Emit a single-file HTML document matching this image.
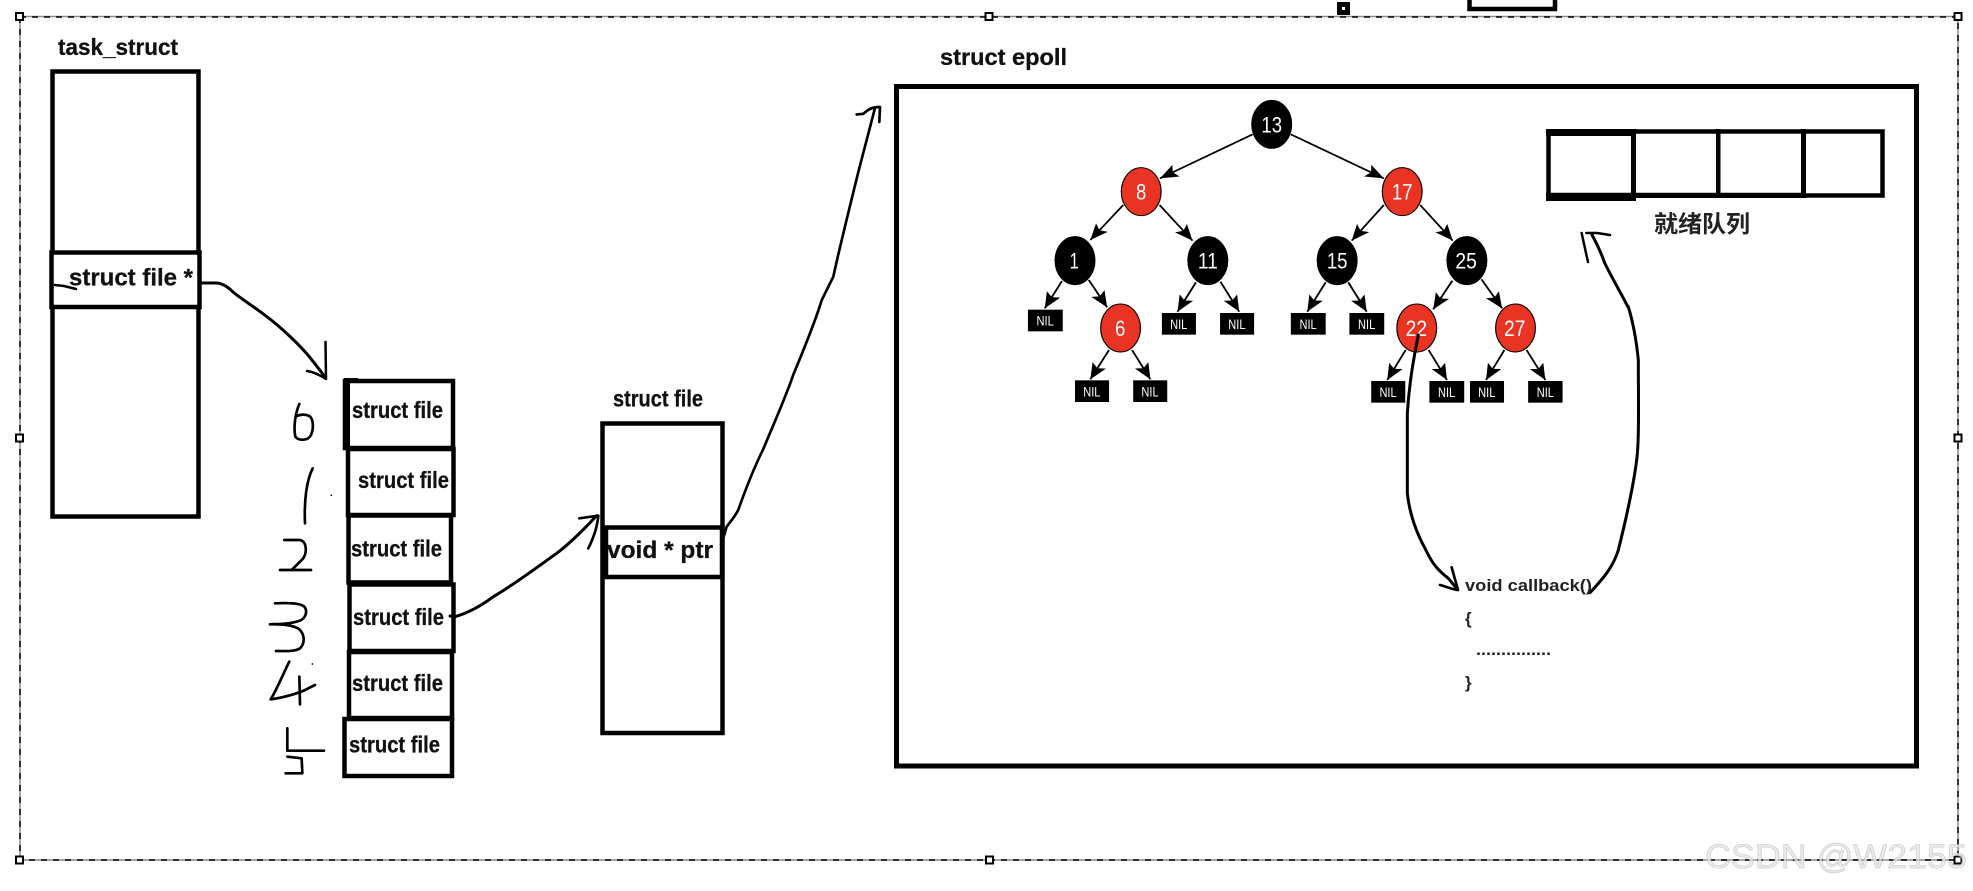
<!DOCTYPE html>
<html>
<head>
<meta charset="utf-8">
<style>
html,body{margin:0;padding:0;background:#fff;width:1973px;height:891px;overflow:hidden}
svg{display:block}
text{font-family:"Liberation Sans","Noto Sans CJK SC",sans-serif}
.b{font-weight:700;fill:#111;stroke:#111;stroke-width:.3}
.h{fill:none;stroke:#000;stroke-linejoin:round;stroke-linecap:round}
.n{fill:#fff;font-size:66px;text-anchor:middle}
.nil{fill:#fff;font-size:42px;text-anchor:middle}
.e{stroke:#000;stroke-width:5;marker-end:url(#ah)}
</style>
</head>
<body>
<svg width="1973" height="891" viewBox="0 0 1973 891" xmlns="http://www.w3.org/2000/svg">
<defs>
<marker id="ah" markerUnits="userSpaceOnUse" markerWidth="52" markerHeight="42" refX="48" refY="20" orient="auto">
<polygon points="0,0 48,20 0,40 10,20" fill="#000"/>
</marker>
</defs>

<!-- selection frame -->
<g fill="none">
<rect x="20" y="16.5" width="1938" height="843.5" stroke="#8a8a8a" stroke-width="1.5"/>
<rect x="20" y="17" width="1938" height="843" stroke="#000" stroke-width="1.5" stroke-dasharray="6 6"/>
</g>
<g fill="#fff" stroke="#000" stroke-width="2">
<rect x="16" y="13" width="7" height="7"/>
<rect x="985.5" y="13" width="7" height="7"/>
<rect x="1954.5" y="13" width="7" height="7"/>
<rect x="16" y="434.5" width="7" height="7"/>
<rect x="1954.5" y="434.5" width="7" height="7"/>
<rect x="16" y="856.5" width="7" height="7"/>
<rect x="986" y="856.5" width="7" height="7"/>
<rect x="1954.5" y="856.5" width="7" height="7"/>
</g>
<rect x="1337" y="2" width="13" height="13" fill="#000"/>
<rect x="1342" y="7" width="3" height="3" fill="#fff"/>
<path d="M1469.5 0V9H1555V0" fill="none" stroke="#000" stroke-width="4.5"/>

<!-- task_struct -->
<text class="b" x="58" y="55" font-size="23" textLength="120" lengthAdjust="spacingAndGlyphs">task_struct</text>
<g fill="#fff" stroke="#000" stroke-width="4.5">
<rect x="52.5" y="71.5" width="146" height="445"/>
<rect x="51.5" y="252.5" width="148" height="54.5"/>
</g>
<text class="b" x="69" y="285.5" font-size="24" textLength="124" lengthAdjust="spacingAndGlyphs">struct file *</text>
<path class="h" stroke-width="2.5" d="M55 285L64 286L76 289"/>
<path class="h" stroke-width="3" d="M202 283L216 283Q224 283 233 292C245 302 262 311 283 330S310 357 325 377"/>
<path class="h" stroke-width="2.5" d="M325.5 342L326 379Q315 372 307 371"/>

<!-- file table -->
<g fill="#fff" stroke="#000" stroke-width="4.5">
<rect x="345" y="381" width="108" height="67"/>
<rect x="348" y="449" width="105.5" height="66"/>
<rect x="348.5" y="515.5" width="102.5" height="67"/>
<rect x="349.5" y="584.5" width="104" height="66.5"/>
<rect x="349" y="652" width="103" height="66"/>
<rect x="344.5" y="719" width="107.5" height="57"/>
</g>
<path d="M344 378H358V383H344ZM345 381H350V448H345Z" fill="#000"/>
<text class="b" x="352" y="418" font-size="23.5" textLength="91" lengthAdjust="spacingAndGlyphs">struct file</text>
<text class="b" x="358" y="488" font-size="23.5" textLength="91" lengthAdjust="spacingAndGlyphs">struct file</text>
<text class="b" x="351" y="556.5" font-size="23.5" textLength="91" lengthAdjust="spacingAndGlyphs">struct file</text>
<text class="b" x="353" y="625" font-size="23.5" textLength="91" lengthAdjust="spacingAndGlyphs">struct file</text>
<text class="b" x="352" y="691" font-size="23.5" textLength="91" lengthAdjust="spacingAndGlyphs">struct file</text>
<text class="b" x="349" y="752.5" font-size="23.5" textLength="91" lengthAdjust="spacingAndGlyphs">struct file</text>

<!-- handwritten digits + arrow in zoom coordinates -->
<g transform="translate(250,340) scale(.33333)">
<g class="h" stroke-width="8">
<path d="M148 192C136 220 130 260 136 290C145 303 175 303 183 285C192 265 190 235 178 228C165 222 150 224 140 228"/>
<path d="M188 385C170 420 162 480 165 550"/>
<path d="M103 600L150 600C170 605 172 635 160 655L125 690M90 690L183 690"/>
<path d="M75 790C110 788 150 788 163 800C175 815 165 835 150 842C120 852 90 853 60 853C95 852 130 855 148 868C165 885 165 910 150 925C135 935 105 933 78 933"/>
<path d="M118 965C100 1000 80 1050 62 1078C90 1075 150 1060 175 1045L195 1035M148 1010L150 1093"/>
<path d="M112 1165L112 1232L222 1232M112 1250L155 1255L157 1300L107 1300"/>
</g>
<circle cx="187" cy="972" r="2.5" fill="#000"/>
<circle cx="244" cy="466" r="2.5" fill="#000"/>
<path class="h" stroke-width="9" d="M600 828L615 830C650 820 690 800 730 770C790 735 850 690 920 640C960 610 1010 560 1040 527"/>
<path class="h" stroke-width="8" d="M988 535L1045 527C1042 560 1030 595 1015 625"/>
</g>

<!-- struct file -->
<text class="b" x="613" y="406.5" font-size="23.5" textLength="90" lengthAdjust="spacingAndGlyphs">struct file</text>
<g fill="none" stroke="#000" stroke-width="4.5">
<rect x="602.5" y="423.5" width="120" height="309.5"/>
<rect x="606" y="527.5" width="116" height="49.5"/>
</g>
<text class="b" x="607" y="558" font-size="24" textLength="106" lengthAdjust="spacingAndGlyphs">void * ptr</text>

<!-- arrow void* -> epoll -->
<g transform="translate(700,30) scale(.33333,.33784)">
<path class="h" stroke-width="8" d="M65 1520L80 1470C95 1450 105 1440 115 1420C140 1350 170 1280 190 1240C215 1180 260 1080 280 1020C310 950 350 850 365 800C385 760 395 740 400 730C415 660 440 560 470 440C485 380 510 290 525 230"/>
<path class="h" stroke-width="8" d="M470 250L490 248C505 235 515 228 540 228L538 272"/>
</g>

<!-- struct epoll -->
<text class="b" x="940" y="65" font-size="23" textLength="127" lengthAdjust="spacingAndGlyphs">struct epoll</text>
<rect x="896.5" y="86.5" width="1020" height="679.5" fill="none" stroke="#000" stroke-width="5"/>

<!-- ready queue -->
<rect x="1548.5" y="131.5" width="334" height="64" fill="none" stroke="#000" stroke-width="4.5"/>
<path d="M1546 129H1636V136H1546ZM1546 192.7H1636V201H1546ZM1631 129H1636V198H1631ZM1716 129H1720.5V197H1716ZM1801 129H1806V197H1801ZM1636 192.7H1806V198H1636Z" fill="#000"/>
<text x="1654" y="232" font-size="23.5" font-weight="700" fill="#222" textLength="96" lengthAdjust="spacingAndGlyphs">就绪队列</text>

<!-- red black tree -->
<g transform="translate(1000,90) scale(.3827,.33333)">
<line class="e" x1="660" y1="133" x2="418" y2="265"/>
<line class="e" x1="760" y1="133" x2="1003" y2="265"/>
<line class="e" x1="322" y1="345" x2="236" y2="450"/>
<line class="e" x1="417" y1="345" x2="503" y2="452"/>
<line class="e" x1="1003" y1="345" x2="919" y2="452"/>
<line class="e" x1="1098" y1="345" x2="1183" y2="452"/>
<line class="e" x1="162" y1="573" x2="117" y2="655"/>
<line class="e" x1="232" y1="570" x2="280" y2="652"/>
<line class="e" x1="512" y1="577" x2="464" y2="665"/>
<line class="e" x1="576" y1="575" x2="625" y2="665"/>
<line class="e" x1="851" y1="577" x2="803" y2="665"/>
<line class="e" x1="910" y1="577" x2="958" y2="665"/>
<line class="e" x1="1182" y1="572" x2="1132" y2="658"/>
<line class="e" x1="1258" y1="568" x2="1312" y2="655"/>
<line class="e" x1="285" y1="780" x2="236" y2="868"/>
<line class="e" x1="345" y1="780" x2="393" y2="868"/>
<line class="e" x1="1060" y1="780" x2="1012" y2="870"/>
<line class="e" x1="1120" y1="780" x2="1168" y2="870"/>
<line class="e" x1="1318" y1="780" x2="1270" y2="870"/>
<line class="e" x1="1376" y1="780" x2="1425" y2="870"/>
<g stroke="#000" stroke-width="3">
<ellipse cx="710" cy="103" rx="52" ry="72" fill="#000"/>
<ellipse cx="369" cy="305" rx="52" ry="72" fill="#e93323"/>
<ellipse cx="1051" cy="305" rx="52" ry="72" fill="#e93323"/>
<ellipse cx="196" cy="512" rx="52" ry="72" fill="#000"/>
<ellipse cx="543" cy="512" rx="52" ry="72" fill="#000"/>
<ellipse cx="881" cy="512" rx="52" ry="72" fill="#000"/>
<ellipse cx="1220" cy="512" rx="52" ry="72" fill="#000"/>
<ellipse cx="315" cy="714" rx="52" ry="72" fill="#e93323"/>
<ellipse cx="1089" cy="714" rx="52" ry="72" fill="#e93323"/>
<ellipse cx="1347" cy="714" rx="52" ry="72" fill="#e93323"/>
</g>
<text class="n" x="710" y="127" textLength="54" lengthAdjust="spacingAndGlyphs">13</text>
<text class="n" x="369" y="329" textLength="27" lengthAdjust="spacingAndGlyphs">8</text>
<text class="n" x="1051" y="329" textLength="54" lengthAdjust="spacingAndGlyphs">17</text>
<text class="n" x="194" y="536" textLength="24" lengthAdjust="spacingAndGlyphs">1</text>
<text class="n" x="543" y="536" textLength="52" lengthAdjust="spacingAndGlyphs">11</text>
<text class="n" x="881" y="536" textLength="54" lengthAdjust="spacingAndGlyphs">15</text>
<text class="n" x="1218" y="536" textLength="56" lengthAdjust="spacingAndGlyphs">25</text>
<text class="n" x="314" y="738" textLength="27" lengthAdjust="spacingAndGlyphs">6</text>
<text class="n" x="1088" y="738" textLength="56" lengthAdjust="spacingAndGlyphs">22</text>
<text class="n" x="1345" y="738" textLength="56" lengthAdjust="spacingAndGlyphs">27</text>
<g fill="#000">
<rect x="73" y="659" width="91" height="65"/>
<rect x="423" y="669" width="89" height="65"/>
<rect x="575" y="669" width="89" height="65"/>
<rect x="760" y="669" width="91" height="65"/>
<rect x="913" y="669" width="91" height="65"/>
<rect x="196" y="871" width="89" height="65"/>
<rect x="348" y="871" width="89" height="65"/>
<rect x="970" y="873" width="89" height="65"/>
<rect x="1122" y="873" width="91" height="65"/>
<rect x="1228" y="873" width="89" height="65"/>
<rect x="1380" y="873" width="90" height="65"/>
</g>
<text class="nil" x="118" y="707" textLength="45" lengthAdjust="spacingAndGlyphs">NIL</text>
<text class="nil" x="467" y="717" textLength="45" lengthAdjust="spacingAndGlyphs">NIL</text>
<text class="nil" x="619" y="717" textLength="45" lengthAdjust="spacingAndGlyphs">NIL</text>
<text class="nil" x="805" y="717" textLength="45" lengthAdjust="spacingAndGlyphs">NIL</text>
<text class="nil" x="958" y="717" textLength="45" lengthAdjust="spacingAndGlyphs">NIL</text>
<text class="nil" x="240" y="919" textLength="45" lengthAdjust="spacingAndGlyphs">NIL</text>
<text class="nil" x="392" y="919" textLength="45" lengthAdjust="spacingAndGlyphs">NIL</text>
<text class="nil" x="1014" y="921" textLength="45" lengthAdjust="spacingAndGlyphs">NIL</text>
<text class="nil" x="1167" y="921" textLength="45" lengthAdjust="spacingAndGlyphs">NIL</text>
<text class="nil" x="1272" y="921" textLength="45" lengthAdjust="spacingAndGlyphs">NIL</text>
<text class="nil" x="1425" y="921" textLength="45" lengthAdjust="spacingAndGlyphs">NIL</text>
</g>

<!-- hand arrows around callback -->
<g transform="translate(1350,300) scale(.33333)">
<path class="h" stroke-width="9" d="M205 105C195 155 178 240 172 340L172 580C178 640 200 700 225 745C240 775 250 800 295 835L322 868"/>
<path class="h" stroke-width="8" d="M305 802L324 870C305 868 290 860 270 855"/>
<path class="h" stroke-width="9" d="M720 878C760 835 790 800 805 750C825 670 850 560 860 480C868 420 865 300 865 180C860 130 850 70 835 20"/>
</g>
<path class="h" stroke-width="3" d="M1628 307C1622 295 1612 278 1604.7 263C1600 250 1596 242 1592 235"/>
<path class="h" stroke-width="2.5" d="M1610 235L1597 233L1586.4 233M1581.6 233L1588 262"/>

<!-- callback text -->
<text x="1465" y="591" font-size="17" font-weight="700" fill="#222" textLength="127" lengthAdjust="spacingAndGlyphs">void callback()</text>
<text x="1465" y="624" font-size="17" font-weight="700" fill="#222">{</text>
<text x="1476" y="655" font-size="17" font-weight="700" fill="#222" textLength="75" lengthAdjust="spacingAndGlyphs">...............</text>
<text x="1465" y="688" font-size="17" font-weight="700" fill="#222">}</text>

<!-- watermark -->
<text x="1705" y="868" font-size="34" fill="#e6e6e6" fill-opacity=".8" stroke="#a8a8a8" stroke-width=".5" stroke-opacity=".7" textLength="262" lengthAdjust="spacingAndGlyphs">CSDN @W2155</text>
</svg>
</body>
</html>
